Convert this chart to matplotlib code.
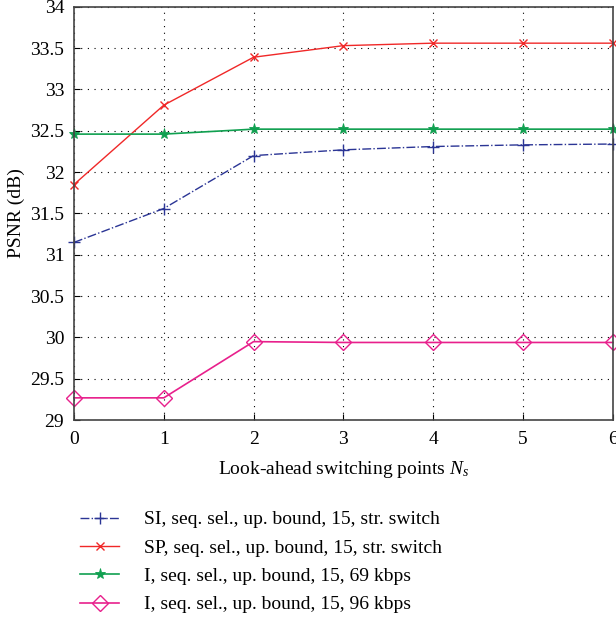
import matplotlib
matplotlib.use('Agg')
import matplotlib.pyplot as plt

plt.rcParams['font.family'] = ['Liberation Serif', 'DejaVu Serif']
plt.rcParams['mathtext.fontset'] = 'custom'
plt.rcParams['mathtext.it'] = 'Liberation Serif:italic'
plt.rcParams['mathtext.rm'] = 'Liberation Serif'

ns = [0, 1, 2, 3, 4, 5, 6]
si_str = [31.15, 31.56, 32.20, 32.27, 32.31, 32.33, 32.34]
sp_str = [31.85, 32.81, 33.39, 33.53, 33.56, 33.56, 33.56]
i_69 = [32.46, 32.46, 32.52, 32.52, 32.52, 32.52, 32.52]
i_96 = [29.27, 29.27, 29.95, 29.94, 29.94, 29.94, 29.94]

labels = [
    "SI, seq. sel., up. bound, 15, str. switch",
    "SP, seq. sel., up. bound, 15, str. switch",
    "I, seq. sel., up. bound, 15, 69 kbps",
    "I, seq. sel., up. bound, 15, 96 kbps",
]

fig = plt.figure(figsize=(6.16, 6.17), dpi=100)
ax = fig.add_axes([0.120, 0.319, 0.875, 0.670])

ax.plot(ns, si_str, color='#2b3595', linestyle='-.', marker='+', markersize=9,
        linewidth=1, label=labels[0], clip_on=False)
ax.plot(ns, sp_str, color='#f02828', linestyle='-', marker='x', markersize=6,
        linewidth=1, label=labels[1], clip_on=False)
ax.plot(ns, i_69, color='#10a050', linestyle='-', marker='*', markersize=8,
        markeredgewidth=0.6, linewidth=1.2, label=labels[2], clip_on=False)
ax.plot(ns, i_96, color='#e8208c', linestyle='-', marker='D', markersize=8,
        markerfacecolor='none', linewidth=1.2, label=labels[3], clip_on=False)

ax.set_xlim(0, 6)
ax.set_ylim(29, 34)
ax.set_xticks(ns)
ax.set_yticks([29, 29.5, 30, 30.5, 31, 31.5, 32, 32.5, 33, 33.5, 34])
ax.set_yticklabels(['29', '29.5', '30', '30.5', '31', '31.5', '32', '32.5',
                    '33', '33.5', '34'])
ax.grid(True, linestyle=(0, (1, 5)), color='black', linewidth=0.8)
ax.tick_params(direction='in', labelsize=14, length=4)
ax.tick_params(axis='x', pad=8)
ax.tick_params(axis='y', pad=7)
for s in ax.spines.values():
    s.set_color('#444444')
    s.set_linewidth(1.2)

ax.set_xlabel("Look-ahead switching points $N_s$", fontsize=14, labelpad=8)
ax.set_ylabel("PSNR (dB)", fontsize=14, labelpad=4)

fig.legend(loc='upper left', bbox_to_anchor=(0.13, 0.172),
           frameon=False, fontsize=14, handlelength=2.0, handletextpad=1.3,
           labelspacing=0.55, borderpad=0, borderaxespad=0)

fig.savefig('out.png', dpi=100)
